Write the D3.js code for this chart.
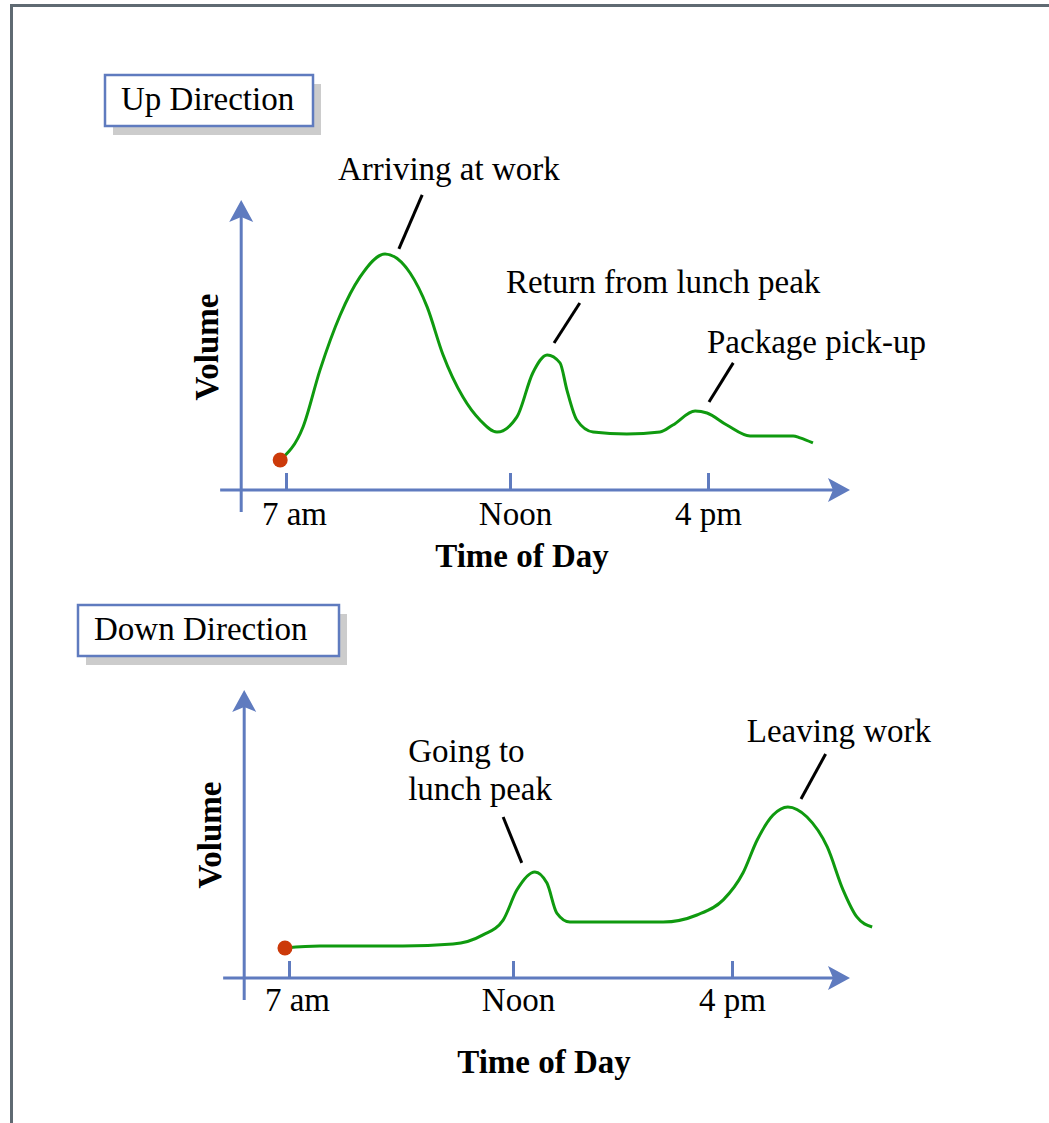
<!DOCTYPE html>
<html>
<head>
<meta charset="utf-8">
<script src="https://cdn.jsdelivr.net/npm/d3@7"></script>
<style>
  html, body { margin: 0; padding: 0; background: #fff; }
  svg { display: block; }
  text { font-family: "Liberation Serif", "Times New Roman", serif; fill: #000; }
</style>
</head>
<body>
<script>
// ---- data ----
const tickHours = [7, 12, 16];
const tickLabels = ['7 am', 'Noon', '4 pm'];

// up direction traffic (hour of day, relative volume)
const upHours = [6.87, 7.38, 7.76, 8.21, 8.65, 9.21, 9.77, 10.15, 10.50, 10.95, 11.33, 11.71,
  12.14, 12.46, 12.75, 13.01, 13.15, 13.35, 13.68, 14.36, 15.03, 15.29, 15.74, 15.98,
  16.38, 16.85, 17.72, 17.86, 18.12];
const upVolume = [10.7, 22.5, 42.9, 62.5, 76, 84.3, 77.5, 65.4, 48.5, 33.2, 25, 20.7,
  26.1, 41.8, 48.2, 45.4, 35.7, 25, 20.7, 20, 20.7, 23.2, 28.2, 27.5,
  23.2, 19.3, 19.3, 18.6, 16.8];

// down direction traffic
const downHours = [6.91, 7.69, 9.54, 10.66, 11.33, 11.78, 12.07, 12.40, 12.62, 12.80, 13.04,
  13.83, 14.74, 15.36, 15.84, 16.20, 16.46, 16.75, 17.02, 17.37, 17.74, 18.03, 18.28, 18.56];
const downVolume = [10.7, 11.4, 11.4, 12.1, 15.4, 20.7, 31.4, 37.9, 33.9, 23.2, 20,
  20, 20, 22.5, 27.9, 37.5, 49.3, 58.2, 61.1, 57.5, 46.8, 31.4, 21.8, 18.2];

// annotations: text anchor and pointer line, in (hour, volume)
const upNotes = [
  { lines: ['Arriving at work'], tx: 8.16, tv: 110.7, x1: 10.04, v1: 105.4, x2: 9.52, v2: 86.1 },
  { lines: ['Return from lunch peak'], tx: 11.91, tv: 70.4, x1: 13.41, v1: 66.8, x2: 12.89, v2: 52.5 },
  { lines: ['Package pick-up'], tx: 15.98, tv: 48.9, x1: 16.51, v1: 45.4, x2: 16.02, v2: 31.4 }
];
const downNotes = [
  { lines: ['Going to', 'lunch peak'], tx: 9.66, tv: 77.1, x1: 11.78, v1: 57.5, x2: 12.16, v2: 41.1 },
  { lines: ['Leaving work'], tx: 16.27, tv: 84.3, x1: 17.71, v1: 80, x2: 17.26, v2: 63.9 }
];

const W = 1049, H = 1123;
const AXIS = '#5f7bbf', GREEN = '#0f9a0f', DOT = '#cc3a0a';

const svg = d3.select('body').append('svg').attr('width', W).attr('height', H);

// outer frame (top and left)
svg.append('path')
  .attr('d', `M11.5,${H} V5.5 H${W}`)
  .attr('fill', 'none').attr('stroke', '#5f6a72').attr('stroke-width', 3);

function titleBox(x, y, w, h, label) {
  svg.append('rect').attr('x', x + 8).attr('y', y + 9).attr('width', w).attr('height', h)
    .attr('fill', '#cccccc');
  svg.append('rect').attr('x', x).attr('y', y).attr('width', w).attr('height', h)
    .attr('fill', '#fff').attr('stroke', AXIS).attr('stroke-width', 2.5);
  svg.append('text').attr('x', x + 16).attr('y', y + 35)
    .style('font-size', '33px').text(label);
}

function panel(cfg) {
  const x = d3.scaleLinear().domain(tickHours).range(cfg.xRange);
  const y = d3.scaleLinear().domain([0, 100]).range(cfg.yRange);
  const g = svg.append('g');

  const y0 = y(0), ax = x(6);
  const xEnd = cfg.xAxisEnd, yTop = y(cfg.yAxisTop);

  // axis lines
  g.append('line').attr('x1', x(5.53)).attr('x2', xEnd - 14).attr('y1', y0).attr('y2', y0)
    .attr('stroke', AXIS).attr('stroke-width', 3);
  g.append('line').attr('x1', ax).attr('x2', ax).attr('y1', y(-7.9)).attr('y2', yTop + 14)
    .attr('stroke', AXIS).attr('stroke-width', 3);
  // arrow heads
  g.append('path')
    .attr('d', `M${xEnd},${y0} L${xEnd - 22},${y0 - 12} L${xEnd - 17},${y0} L${xEnd - 22},${y0 + 12} Z`)
    .attr('fill', AXIS);
  g.append('path')
    .attr('d', `M${ax},${yTop} L${ax - 12},${yTop + 22} L${ax},${yTop + 17} L${ax + 12},${yTop + 22} Z`)
    .attr('fill', AXIS);

  // ticks + labels
  const xAxis = g.append('g').attr('transform', `translate(0,${y0})`)
    .call(d3.axisBottom(x).tickValues(tickHours).tickFormat((d, i) => tickLabels[i])
      .tickSizeInner(-17).tickSizeOuter(0).tickPadding(cfg.pad));
  xAxis.select('.domain').remove();
  xAxis.selectAll('line').attr('stroke', AXIS).attr('stroke-width', 3);
  xAxis.selectAll('text').attr('fill', '#000')
    .attr('dx', (d, i) => [8, 5, 0][i])
    .style('font-family', '"Liberation Serif", "Times New Roman", serif').style('font-size', '33px');

  // axis titles
  g.append('text').attr('x', cfg.timeX).attr('y', cfg.timeY).attr('text-anchor', 'middle')
    .style('font-size', '33px').style('font-weight', 'bold').text('Time of Day');
  g.append('text').attr('transform', `translate(${ax - 23},${cfg.volY}) rotate(-90)`)
    .attr('text-anchor', 'middle').style('font-size', '33px').style('font-weight', 'bold')
    .text('Volume');

  // curve
  const pts = cfg.hours.map((h, i) => [h, cfg.vol[i]]);
  g.append('path').datum(pts)
    .attr('d', d3.line().x(d => x(d[0])).y(d => y(d[1])).curve(d3.curveMonotoneX))
    .attr('fill', 'none').attr('stroke', GREEN).attr('stroke-width', 3);
  g.append('circle').attr('cx', x(pts[0][0])).attr('cy', y(pts[0][1])).attr('r', 7.5)
    .attr('fill', DOT);

  // annotations
  cfg.notes.forEach(n => {
    g.append('line').attr('x1', x(n.x1)).attr('y1', y(n.v1)).attr('x2', x(n.x2)).attr('y2', y(n.v2))
      .attr('stroke', '#000').attr('stroke-width', 3);
    const t = g.append('text').attr('x', x(n.tx)).attr('y', y(n.tv)).style('font-size', '33px');
    n.lines.forEach((l, i) => {
      t.append('tspan').attr('x', x(n.tx)).attr('dy', i ? 38 : 0).text(l);
    });
  });
}

titleBox(105, 75, 208, 51, 'Up Direction');
titleBox(78, 605, 261, 51, 'Down Direction');

panel({
  xRange: [286, 510, 708], yRange: [490, 210], xAxisEnd: 850, yAxisTop: 103.6, pad: 12,
  timeX: 522, timeY: 567, volY: 347,
  hours: upHours, vol: upVolume, notes: upNotes
});

panel({
  xRange: [289, 513, 732], yRange: [978, 698], xAxisEnd: 850, yAxisTop: 102.9, pad: 10,
  timeX: 544, timeY: 1073, volY: 835,
  hours: downHours, vol: downVolume, notes: downNotes
});
</script>
</body>
</html>
